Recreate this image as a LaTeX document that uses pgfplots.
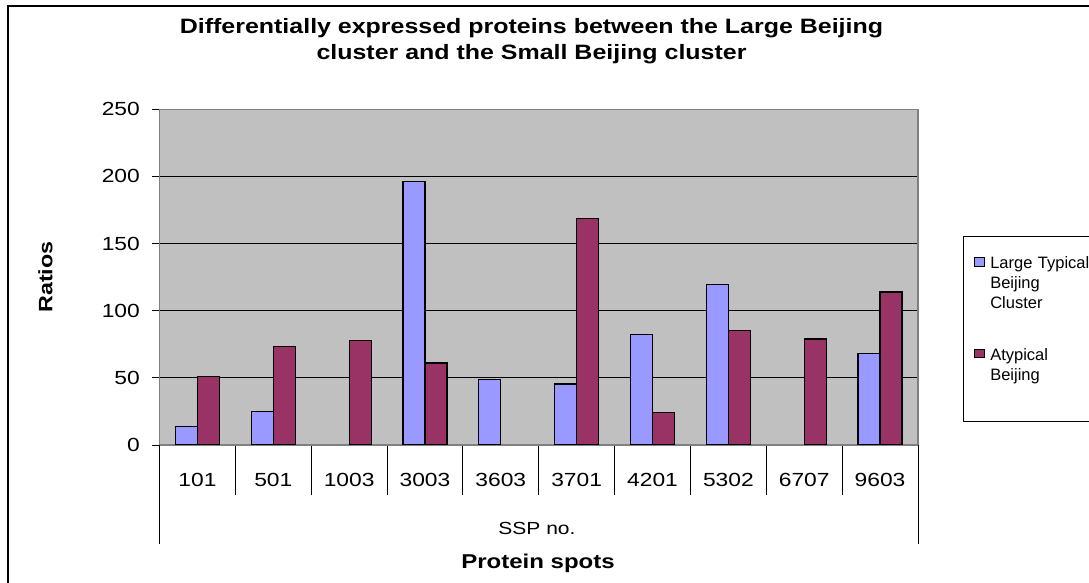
\documentclass[border=0pt]{standalone}
\usepackage{fontspec}
\setmainfont{Liberation Sans}
\newfontfamily\wf[FakeStretch=1.2]{Liberation Sans}
\usepackage{pgfplots}
\pgfplotsset{compat=1.18}
\definecolor{barblue}{HTML}{9999FF}
\definecolor{barred}{HTML}{993366}
\definecolor{plotgray}{HTML}{C0C0C0}
\definecolor{axgray}{HTML}{808080}
\begin{document}
\begin{tikzpicture}
\useasboundingbox (0bp,0bp) rectangle (1089bp,583bp);
\draw[line width=1.3bp] (8bp,-20bp) -- (8bp,577bp) -- (1110bp,577bp);
\begin{axis}[
  at={(159.5bp,138bp)}, anchor=south west,
  scale only axis, width=758.5bp, height=335.7bp,
  xmin=-0.5, xmax=9.5, ymin=0, ymax=250,
  ybar, bar width=22bp,
  axis background/.style={fill=plotgray},
  axis line style={draw=axgray, line width=1.2bp},
  ymajorgrids, grid style={black, line width=0.9bp},
  ytick={0,50,...,250}, ytick pos=left,
  xtick={0,...,9}, xtick pos=bottom,
  xticklabels={101,501,1003,3003,3603,3701,4201,5302,6707,9603},
  minor xtick={-0.5,0.5,...,9.5},
  tick align=outside,
  major tick length=8bp, minor tick length=50bp,
  tick style={black, line width=0.9bp},
  major x tick style={draw=none},
  extra x ticks={-0.5,9.5}, extra x tick labels={},
  extra x tick style={major tick length=99bp, major x tick style={draw=black}, grid=none},
  /pgf/number format/assume math mode=true,
  xticklabel style={font=\wf\fontsize{19bp}{19bp}\selectfont, anchor=base, yshift=-33.7bp},
  yticklabel style={font=\wf\fontsize{19bp}{19bp}\selectfont, anchor=east, inner sep=0pt, xshift=-11.5bp},
  legend style={at={(1.0589,0.6226)}, anchor=north west, draw=black, line width=1bp, fill=white,
    inner xsep=11bp, inner ysep=17.8bp, row sep=0pt, column sep=5.5bp,
    font=\fontsize{16.5bp}{20bp}\selectfont, cells={anchor=base west},
    nodes={inner sep=0pt, text height=14.5bp, text depth=5.5bp, text width=115bp, align=left}},
]
\addplot[fill=barblue, draw=black, line width=1.2bp, bar shift=-11bp,
  legend image code/.code={\draw[fill=barblue, draw=black, line width=1bp] (0bp,2.3bp) rectangle (9.6bp,11bp);}]
  coordinates {(0,14) (1,25) (3,196) (4,48.5) (5,45.5) (6,82) (7,119.5) (9,68)};
\addlegendentry{Large Typical}
\addlegendimage{empty legend}\addlegendentry{Beijing}
\addlegendimage{empty legend}\addlegendentry{Cluster}
\addlegendimage{empty legend}\addlegendentry[text height=0pt, text depth=31.3bp]{}
\addplot[fill=barred, draw=black, line width=1.2bp, bar shift=11bp,
  legend image code/.code={\draw[fill=barred, draw=black, line width=1bp] (0bp,2.3bp) rectangle (9.6bp,11bp);}]
  coordinates {(0,51) (1,73.5) (2,78) (3,61) (5,168.5) (6,24.5) (7,85) (8,79) (9,114)};
\addlegendentry{Atypical}
\addlegendimage{empty legend}\addlegendentry{Beijing}
\addlegendimage{empty legend}\addlegendentry[text height=0pt, text depth=17.7bp]{}
\end{axis}
\node[font=\wf\bfseries\fontsize{20.8bp}{26bp}\selectfont, anchor=base] at (531.5bp,549.7bp) {Differentially expressed proteins between the Large Beijing};
\node[font=\wf\bfseries\fontsize{20.8bp}{26bp}\selectfont, anchor=base] at (531.5bp,523bp) {cluster and the Small Beijing cluster};
\node[font=\wf\bfseries\fontsize{19.4bp}{20bp}\selectfont, rotate=90, anchor=base] at (52.3bp,306bp) {Ratios};
\node[font=\wf\fontsize{17.5bp}{20bp}\selectfont, anchor=base] at (537bp,48bp) {SSP no.};
\node[font=\wf\bfseries\fontsize{20bp}{24bp}\selectfont, anchor=base] at (538bp,15bp) {Protein spots};
\end{tikzpicture}
\end{document}
